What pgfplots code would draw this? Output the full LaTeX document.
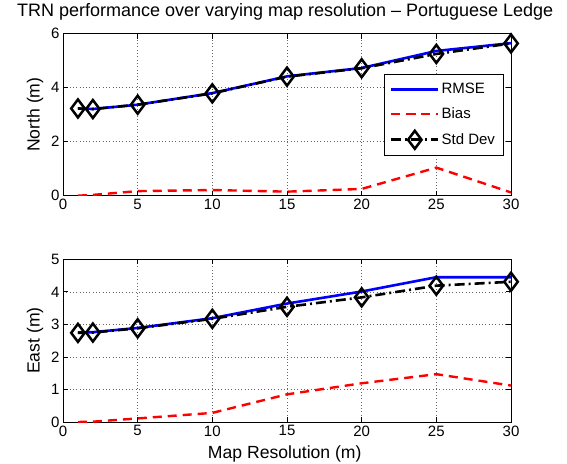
\documentclass[border=0pt]{standalone}
\usepackage{fontspec}
\setmainfont{Liberation Sans}
\usepackage{pgfplots}
\pgfplotsset{compat=1.18}

\definecolor{mblue}{rgb}{0,0,1}
\definecolor{mred}{rgb}{1,0,0}

\pgfplotsset{
  trn/.style={
    scale only axis,
    width=448pt,
    xmin=0, xmax=30,
    xtick={0,5,10,15,20,25,30},
    tick pos=both,
    ticklabel pos=left,
    tick align=inside,
    major tick length=5pt,
    grid=major,
    major grid style={black!60, line width=0.5pt, dash pattern=on 0.7pt off 2.6pt},
    axis line style={line width=0.8pt},
    every tick/.style={black, line width=0.8pt},
    tick label style={font=\fontsize{15}{18}\selectfont},
    label style={font=\fontsize{17.6}{20}\selectfont},
    /pgf/number format/assume math mode=true,
    ylabel style={at={(axis description cs:-0.0625,0.5)}, anchor=center},
  },
  rmse/.style={color=mblue, line width=2.6pt, solid},
  bias/.style={color=mred, line width=2.4pt, dash pattern=on 9pt off 6pt},
  stdd/.style={color=black, line width=2.6pt, dash pattern=on 10pt off 4pt on 2pt off 4pt,
    mark=diamond, mark size=9pt, mark options={solid, fill=white, line width=2.5pt}},
}

\begin{document}
\begin{tikzpicture}
\path[use as bounding box] (0,0) rectangle (567pt,-463pt);

% North error
\begin{axis}[trn,
  at={(63pt,-33.7pt)}, anchor=north west,
  height=162pt,
  ymin=0, ymax=6, ytick={0,2,4,6},
  ylabel={North (m)},
  title={TRN performance over varying map resolution – Portuguese Ledge},
  title style={font=\fontsize{18}{20}\selectfont, at={(axis description cs:0.496,1.072)}, anchor=base},
  legend cell align=left,
  legend style={at={(axis description cs:0.983,0.751)}, anchor=north east,
    font=\fontsize{15}{18}\selectfont, draw=black, line width=0.8pt,
    inner xsep=6pt, inner ysep=7pt, row sep=8.5pt,
    legend image code/.code={\draw[mark repeat=2,mark phase=2] plot coordinates {(0pt,0pt) (23.5pt,0pt) (47pt,0pt)};}},
]
\addplot[rmse] coordinates {(1,3.23) (2,3.21) (5,3.37) (10,3.80) (15,4.42) (20,4.73) (25,5.36) (30,5.65)};
\addlegendentry{RMSE}
\addplot[bias] coordinates {(1,0.00) (2,0.03) (5,0.17) (10,0.21) (15,0.15) (20,0.25) (25,1.04) (30,0.12)};
\addlegendentry{Bias}
\addplot[stdd] coordinates {(1,3.23) (2,3.21) (5,3.37) (10,3.79) (15,4.41) (20,4.72) (25,5.25) (30,5.64)};
\addlegendentry{Std Dev}
\end{axis}

% East error
\begin{axis}[trn,
  at={(63pt,-259.3pt)}, anchor=north west,
  height=162.7pt,
  ymin=0, ymax=5, ytick={0,1,2,3,4,5},
  ylabel={East (m)},
  xlabel={Map Resolution (m)},
  xlabel style={at={(axis description cs:0.495,-0.227)}, anchor=base},
]
\addplot[rmse] coordinates {(1,2.75) (2,2.76) (5,2.89) (10,3.19) (15,3.64) (20,4.01) (25,4.45) (30,4.45)};
\addplot[bias] coordinates {(1,0.00) (2,0.01) (5,0.11) (10,0.28) (15,0.85) (20,1.19) (25,1.47) (30,1.12)};
\addplot[stdd] coordinates {(1,2.74) (2,2.75) (5,2.88) (10,3.17) (15,3.54) (20,3.83) (25,4.19) (30,4.31)};
\end{axis}
\end{tikzpicture}
\end{document}
